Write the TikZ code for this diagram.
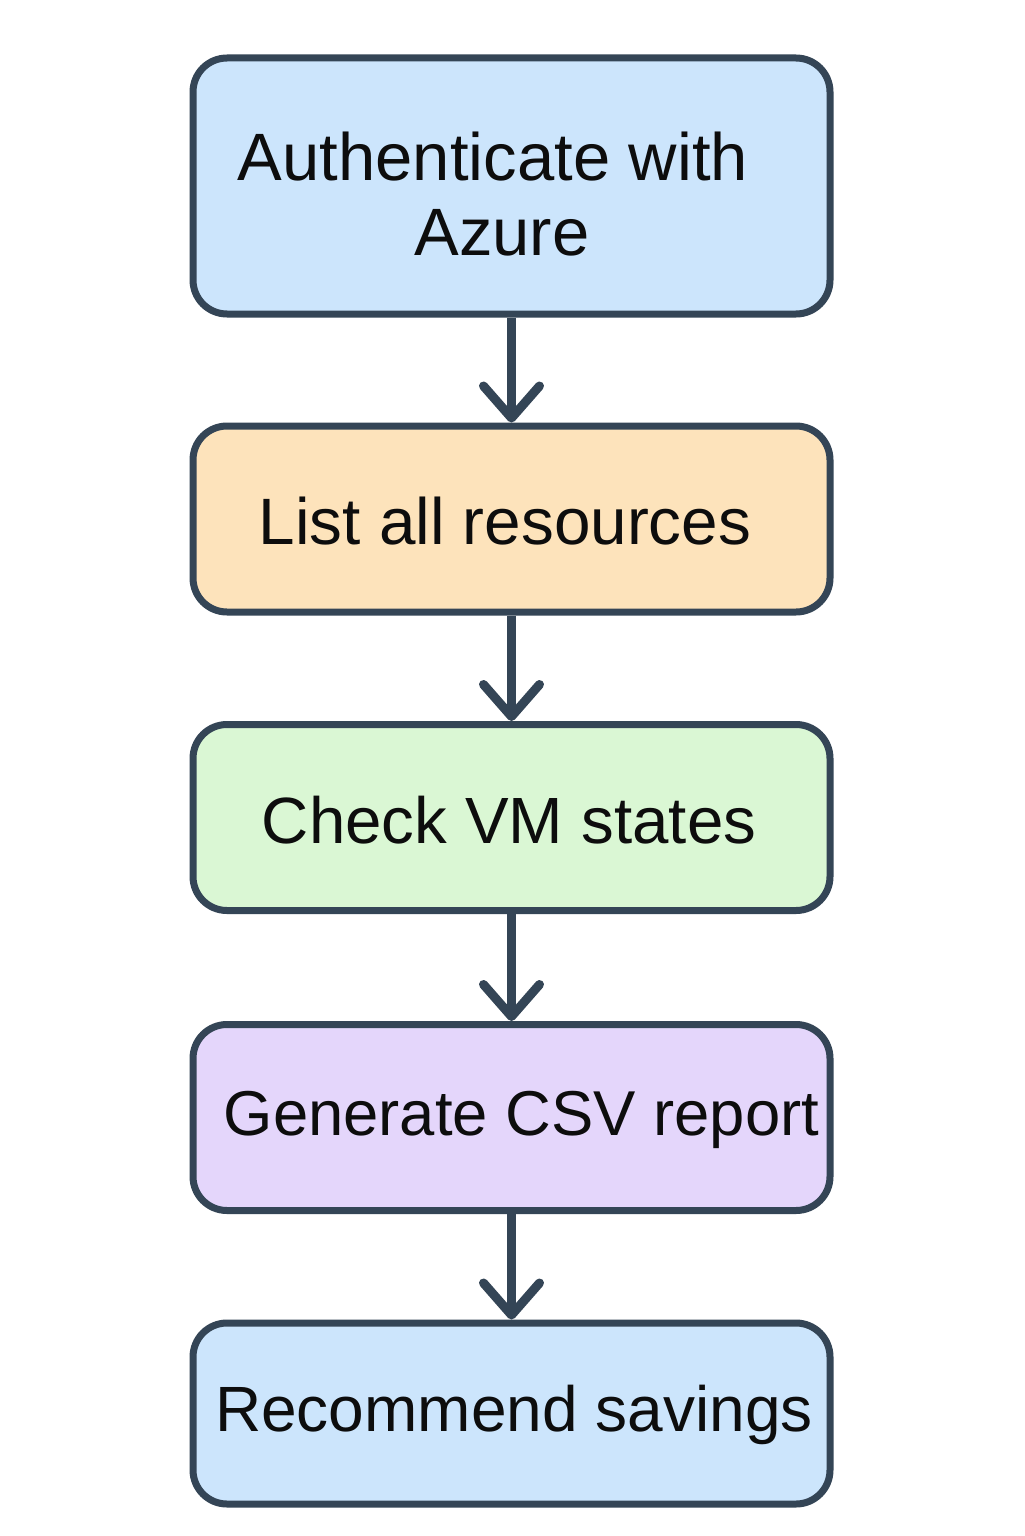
\documentclass[tikz,border=0pt]{standalone}
\usepackage{fontspec}
\setmainfont{Liberation Sans}
\usetikzlibrary{arrows.meta}
\definecolor{edge}{HTML}{344556}
\definecolor{txt}{HTML}{0D0D0D}
\definecolor{fblue}{HTML}{CCE5FC}
\definecolor{fpeach}{HTML}{FDE3BB}
\definecolor{fgreen}{HTML}{DAF7D4}
\definecolor{fviolet}{HTML}{E4D6FB}
\tikzset{
  stepbox/.style={draw=edge, line width=3.5pt, rounded corners=17pt, minimum width=318.5pt,
    inner sep=0pt},
  steptext/.style={inner sep=0pt, align=center, text=txt},
  flow/.style={draw=edge, line width=4.5pt,
    -{Straight Barb[length=16pt,width=28pt,round]}}
}
\begin{document}
\begin{tikzpicture}[x=0.5pt,y=-0.5pt]
\useasboundingbox (0,0) rectangle (1024,1536);
\fill[white] (0,0) rectangle (1024,1536);
\node[stepbox, fill=fblue, minimum height=128pt] (a) at (511.5,186) {};
\node[stepbox, fill=fpeach, minimum height=93pt] (b) at (511.5,519) {};
\node[stepbox, fill=fgreen, minimum height=93pt] (c) at (511.5,817.5) {};
\node[stepbox, fill=fviolet, minimum height=93pt] (d) at (511.5,1117.5) {};
\node[stepbox, fill=fblue, minimum height=90.5pt] (e) at (511.5,1413.5) {};
\node[steptext, font=\fontsize{33.5}{37.5}\selectfont] (ta) at (493,194) {Authenticate with\\\hspace*{9pt}Azure};
\node[steptext, font=\fontsize{32.8}{37.5}\selectfont] (tb) at (505,521) {List all resources};
\node[steptext, font=\fontsize{32.7}{37.5}\selectfont] (tc) at (509,820) {Check VM states};
\node[steptext, font=\fontsize{31.7}{37.5}\selectfont] (td) at (521.5,1120) {Generate CSV report};
\node[steptext, font=\fontsize{32}{37.5}\selectfont] (te) at (514,1415) {Recommend savings};
\draw[flow] (a.south) -- (b.north);
\draw[flow] (b.south) -- (c.north);
\draw[flow] (c.south) -- (d.north);
\draw[flow] (d.south) -- (e.north);
\end{tikzpicture}
\end{document}
